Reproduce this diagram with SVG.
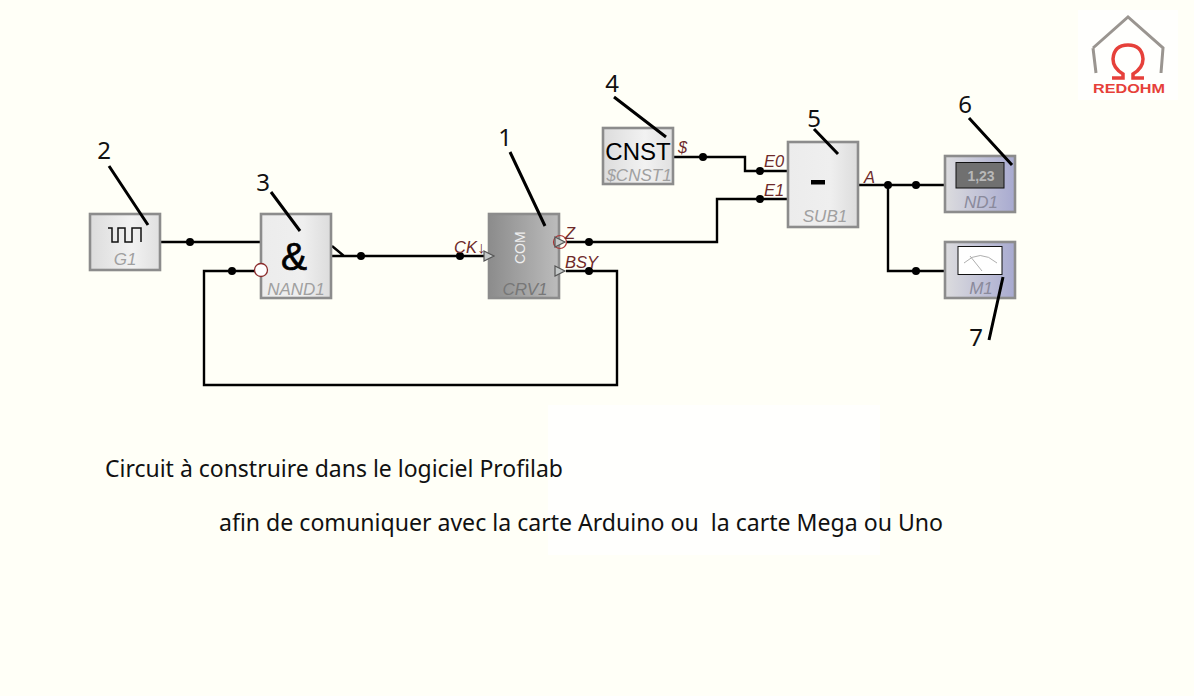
<svg xmlns="http://www.w3.org/2000/svg" width="1194" height="696" viewBox="0 0 1194 696">
<style>
.wire{fill:none;stroke:#000;stroke-width:2.4}
.call{fill:none;stroke:#000;stroke-width:3}
.dot{fill:#000}
.box{stroke:#8c8c8c;stroke-width:2.6}
.name{font-family:"Liberation Sans",Arial,sans-serif;font-style:italic;font-size:17px;fill:#a0a0a0;text-anchor:middle}
.pin{font-family:"Liberation Sans",Arial,sans-serif;font-style:italic;font-size:16.5px;fill:#6e2a2a}
.num{font-family:"Noto Sans",sans-serif;font-size:24px;fill:#111;text-anchor:middle}
.cap{font-family:"Noto Sans",sans-serif;font-size:23px;fill:#111}
.tri{fill:#c4c8c8;stroke:#555;stroke-width:1.2}
</style>
<defs>
<linearGradient id="g1"><stop offset="0" stop-color="#dcdcdc"/><stop offset=".6" stop-color="#f2f2f2"/><stop offset="1" stop-color="#e0e0e0"/></linearGradient>
<linearGradient id="g2"><stop offset="0" stop-color="#ececec"/><stop offset=".6" stop-color="#efefef"/><stop offset="1" stop-color="#dcdcdc"/></linearGradient>
<linearGradient id="g3"><stop offset="0" stop-color="#8c8c8c"/><stop offset="1" stop-color="#bcbcbc"/></linearGradient>
<linearGradient id="g4"><stop offset="0" stop-color="#dcdcde"/><stop offset="1" stop-color="#a8aad0"/></linearGradient>
</defs>
<rect width="1194" height="696" fill="#fffff7"/>
<rect x="548" y="405" width="332" height="150" fill="#fffffd"/>
<rect x="1078" y="10" width="100" height="90" fill="#fffffd"/>

<g id="connectors">
<path class="wire" d="M161 242H261M261 271H204V385H617V271H566M332 256H488M344 256L332 246M566 242H717V199H788M674 157H745V171H788M859 185H945M888 185V271H945"/>
<g class="dot">
<circle cx="190" cy="242" r="4"/><circle cx="232" cy="271" r="4"/><circle cx="361" cy="256" r="4"/><circle cx="460" cy="256" r="4"/>
<circle cx="589" cy="242" r="4"/><circle cx="589" cy="271" r="4"/><circle cx="703" cy="157" r="4"/><circle cx="760" cy="171" r="4"/><circle cx="760" cy="199" r="4"/>
<circle cx="888" cy="185" r="4"/><circle cx="916" cy="185" r="4"/><circle cx="916" cy="271" r="4"/>
</g>
</g>

<g id="G1">
<rect class="box" x="90" y="214" width="70" height="56" fill="url(#g1)"/>
<path d="M108 228H112V242H118V228H125V242H132V228H141V242" fill="none" stroke="#111" stroke-width="1.5"/>
<text class="name" x="125" y="265">G1</text>
</g>
<g id="NAND1">
<rect class="box" x="261" y="214" width="70" height="84" fill="url(#g2)"/>
<text x="294" y="270" font-family="Liberation Sans,sans-serif" font-size="39" text-anchor="middle" fill="#000" stroke="#000" stroke-width=".7">&amp;</text>
<circle cx="261" cy="270" r="6.5" fill="#fff" stroke="#8a2a2a" stroke-width="1.3"/>
<text class="name" x="296" y="295">NAND1</text>
</g>
<g id="CRV1">
<rect class="box" x="489" y="214" width="70" height="84" fill="url(#g3)"/>
<text x="0" y="0" transform="translate(525 264) rotate(-90)" font-family="Liberation Sans,sans-serif" font-size="14" fill="#eee">COM</text>
<text class="name" x="525" y="295" style="fill:#777">CRV1</text>
<circle cx="560" cy="242" r="6.5" fill="none" stroke="#a33" stroke-width="1.2"/>
<path class="tri" d="M484 251L494 256L484 261ZM555 237L565 242L555 247ZM555 266L565 271L555 276Z"/>
<text class="pin" x="454" y="253">CK↓</text>
<text class="pin" x="565" y="239">Z</text>
<text class="pin" x="565" y="268">BSY</text>
</g>
<g id="CNST1">
<rect class="box" x="603" y="128" width="70" height="56" fill="url(#g1)"/>
<text x="638" y="160" font-family="Liberation Sans,sans-serif" font-size="24" text-anchor="middle" fill="#000">CNST</text>
<text class="name" x="639" y="181">$CNST1</text>
<text class="pin" x="678" y="153">$</text>
</g>
<g id="SUB1">
<rect class="box" x="788" y="142" width="70" height="85" fill="url(#g2)"/>
<rect x="811" y="180" width="14" height="4.5" fill="#000"/>
<text class="name" x="825" y="222">SUB1</text>
<text class="pin" x="764" y="167">E0</text>
<text class="pin" x="764" y="196">E1</text>
<text class="pin" x="864" y="183">A</text>
</g>
<g id="ND1">
<rect class="box" x="945" y="156" width="70" height="56" fill="url(#g4)"/>
<rect x="956" y="162.500" width="48" height="25.500" fill="#707070" stroke="#111" stroke-width="1"/>
<text x="981" y="181" font-family="Liberation Sans,sans-serif" font-weight="700" font-size="14" text-anchor="middle" fill="#b8b8b8">1,23</text>
<text class="name" x="981" y="208" style="fill:#8a8a9c">ND1</text>
</g>
<g id="M1">
<rect class="box" x="945" y="242" width="70" height="56" fill="url(#g4)"/>
<rect x="958" y="246.500" width="44" height="28" fill="#fff" stroke="#111" stroke-width="1"/>
<path d="M964 263Q980 248 997 263M970 256L982 271" fill="none" stroke="#999" stroke-width=".8"/>
<text class="name" x="981" y="294" style="fill:#8a8a9c">M1</text>
</g>

<g id="callouts">
<path class="call" d="M109 166L148 225M271 192L300 231M510 152L545 226M614 97L666 137M814 129L838 154M969 118L1012 165M989 340L1003 277"/>
<text class="num" x="104" y="159">2</text>
<text class="num" x="263" y="191">3</text>
<text class="num" x="505" y="146">1</text>
<text class="num" x="612" y="92">4</text>
<text class="num" x="814" y="127">5</text>
<text class="num" x="965" y="113">6</text>
<text class="num" x="976" y="346">7</text>
</g>

<g id="logo">
<path d="M1093 48L1128 17L1163 48L1161 73M1093 48L1096 73" fill="none" stroke="#9a9590" stroke-width="3"/>
<path d="M1112 78H1123V74Q1113 68 1113 59Q1114 45 1128 45Q1142 45 1143 59Q1143 68 1133 74V78H1144" fill="none" stroke="#e6403a" stroke-width="3.500"/>
<text x="1129" y="93" font-family="Liberation Sans,sans-serif" font-weight="700" font-size="12" text-anchor="middle" fill="#e6403a" textLength="72" lengthAdjust="spacingAndGlyphs">REDOHM</text>
</g>

<text class="cap" x="105" y="477" textLength="458" lengthAdjust="spacingAndGlyphs">Circuit à construire dans le logiciel Profilab</text>
<text class="cap" x="219" y="531" textLength="724" lengthAdjust="spacingAndGlyphs" xml:space="preserve">afin de comuniquer avec la carte Arduino ou  la carte Mega ou Uno</text>
</svg>
